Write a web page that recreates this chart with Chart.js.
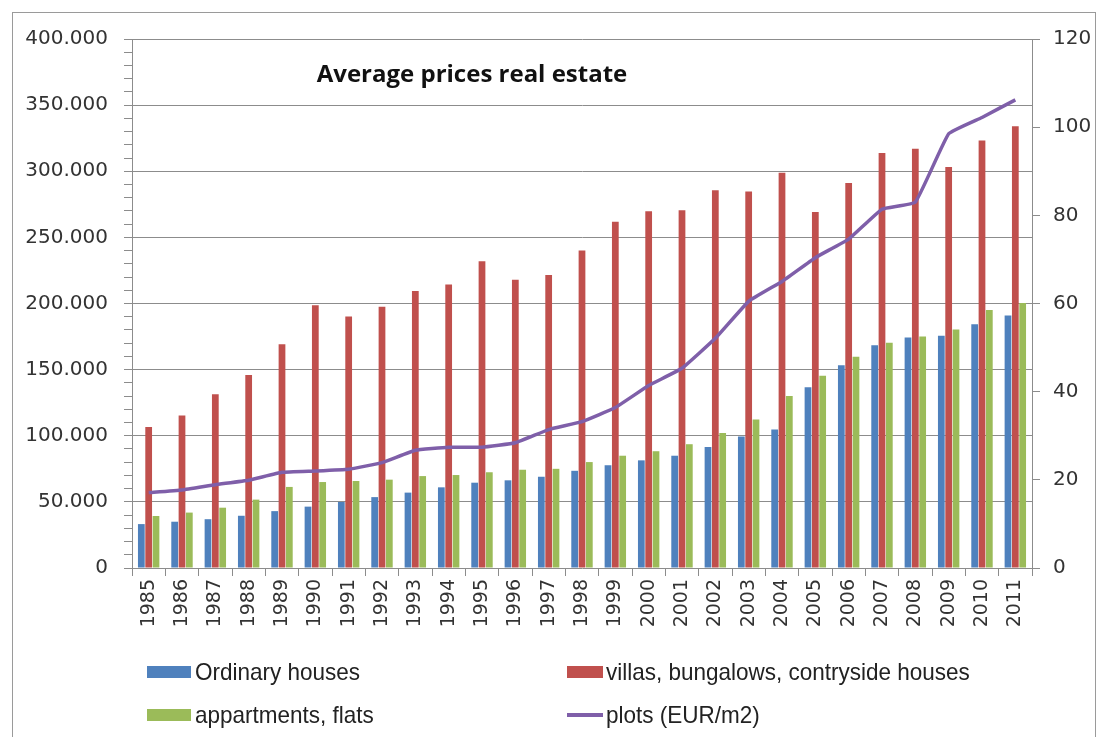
<!DOCTYPE html>
<html>
<head>
<meta charset="utf-8">
<title>Average prices real estate</title>
<script src="https://cdn.jsdelivr.net/npm/chart.js@4.4.1/dist/chart.umd.min.js"></script>
<style>
  body { margin: 0; background: #fff; }
  #wrap { width: 1097px; height: 737px; }
</style>
</head>
<body>
<div id="wrap"><canvas id="chart" width="1097" height="737"></canvas></div>
<script>
// Data
const years = ['1985', '1986', '1987', '1988', '1989', '1990', '1991', '1992', '1993', '1994',
  '1995', '1996', '1997', '1998', '1999', '2000', '2001', '2002', '2003', '2004',
  '2005', '2006', '2007', '2008', '2009', '2010', '2011'];

const ordinaryHouses = [33200, 35000, 36900, 39500, 43000, 46400, 49900, 53600, 57000, 61000,
  64500, 66300, 69000, 73500, 77700, 81400, 84900, 91500, 99500, 104800,
  136600, 153300, 168400, 174300, 175600, 184400, 191000];

const villas = [106600, 115400, 131300, 145900, 169200, 198700, 190200, 197600, 209500, 214300,
  232000, 218000, 221500, 240000, 261800, 269800, 270600, 285700, 284600, 298900,
  269200, 291200, 313800, 317000, 303200, 323300, 334000];

const apartments = [39300, 41900, 45600, 51700, 61300, 65000, 65800, 66800, 69500, 70300,
  72400, 74300, 75000, 80100, 84900, 88300, 93600, 102000, 112200, 130000,
  145400, 159700, 170300, 175000, 180400, 195000, 200300];

const plots = [17.1, 17.7, 18.9, 19.9, 21.7, 22.0, 22.4, 23.9, 26.7, 27.4,
  27.4, 28.4, 31.4, 33.2, 36.4, 41.4, 45.3, 52.1, 60.5, 65.0,
  70.4, 74.6, 81.4, 83.0, 98.5, 102.2, 106.2];

const seriesNames = ['Ordinary houses', 'villas, bungalows, contryside houses', 'appartments, flats', 'plots (EUR/m2)'];
const colors = ['#4F81BD', '#C0504D', '#9BBB59', '#7F5FA9'];
const chartTitle = 'Average prices real estate';

const axisFont = { family: 'DejaVu Sans', size: 20 };
const textColor = '#333333';
const gridColor = '#8c8c8c';

function euro(v) {
  return v === 0 ? '0' : v.toLocaleString('de-DE');
}

// white background, outer frame, title and legend
const decor = {
  id: 'decor',
  beforeDraw(chart) {
    const c = chart.ctx;
    c.save();
    c.fillStyle = '#fff';
    c.fillRect(0, 0, chart.width, chart.height);
    c.strokeStyle = '#9a9a9a';
    c.lineWidth = 1;
    c.strokeRect(12.5, 12.5, 1083, 740);
    c.restore();
  },
  afterDraw(chart) {
    const c = chart.ctx;
    c.save();
    c.fillStyle = '#111';
    c.font = 'bold 24px "Open Sans"';
    c.textAlign = 'center';
    c.textBaseline = 'middle';
    c.fillText(chartTitle, 472, 75);

    // legend, 2 x 2 ; the original font is a narrow one, so squeeze it
    const items = [
      { x: 147, y: 672, i: 0 },
      { x: 567, y: 672, i: 1 },
      { x: 147, y: 715, i: 2 },
      { x: 567, y: 715, i: 3 }
    ];
    c.font = '24px "Liberation Sans"';
    const squeeze = 165 / c.measureText(seriesNames[0]).width;
    c.textAlign = 'left';
    c.textBaseline = 'middle';
    items.forEach(it => {
      c.fillStyle = colors[it.i];
      if (it.i === 3) {
        c.fillRect(it.x, it.y - 2, 36, 4);
      } else {
        c.fillRect(it.x, it.y - 6, it.i === 1 ? 36 : 44, 12);
      }
      const tx = it.x + (it.i === 0 || it.i === 2 ? 48 : 39);
      c.save();
      c.translate(tx, it.y + 1);
      c.scale(squeeze, 1);
      c.fillStyle = '#222';
      c.fillText(seriesNames[it.i], 0, 0);
      c.restore();
    });
    c.restore();
  }
};

const ctx = document.getElementById('chart').getContext('2d');
const chart = new Chart(ctx, {
  data: {
    labels: years,
    datasets: [
      { type: 'bar', label: seriesNames[0], data: ordinaryHouses, backgroundColor: colors[0], yAxisID: 'y', order: 1 },
      { type: 'bar', label: seriesNames[1], data: villas, backgroundColor: colors[1], yAxisID: 'y', order: 1 },
      { type: 'bar', label: seriesNames[2], data: apartments, backgroundColor: colors[2], yAxisID: 'y', order: 1 },
      {
        type: 'line', label: seriesNames[3], data: plots, borderColor: colors[3], borderWidth: 3.5,
        pointRadius: 0, tension: 0.1, yAxisID: 'y2', order: 0
      }
    ]
  },
  options: {
    responsive: false,
    animation: false,
    layout: { padding: { top: 39, left: 0, right: 0, bottom: 0 } },
    datasets: {
      bar: { categoryPercentage: 0.66, barPercentage: 0.92 }
    },
    plugins: {
      legend: { display: false },
      tooltip: { enabled: false }
    },
    scales: {
      x: {
        offset: true,
        grid: { offset: true, drawOnChartArea: false, color: gridColor, tickLength: 8 },
        border: { color: gridColor },
        ticks: { color: textColor, font: { family: 'DejaVu Sans', size: 19 }, minRotation: 90, maxRotation: 90, padding: 3, autoSkip: false },
        afterFit(s) { s.height = 169; }
      },
      y: {
        position: 'left',
        min: 0, max: 400000,
        grid: {
          color: c => (c.tick && c.tick.value % 50000 === 0 && c.tick.value !== 0) ? gridColor : 'transparent',
          tickColor: gridColor,
          tickLength: 8
        },
        border: { color: gridColor },
        ticks: {
          stepSize: 10000, autoSkip: false, color: textColor, font: axisFont, padding: 16,
          callback: v => (v % 50000 === 0 ? euro(v) : '')
        },
        afterFit(s) { s.width = 132; }
      },
      y2: {
        position: 'right',
        min: 0, max: 120,
        grid: { drawOnChartArea: false, color: gridColor, tickLength: 8 },
        border: { color: gridColor },
        ticks: { stepSize: 20, color: textColor, font: axisFont, padding: 13 },
        afterFit(s) { s.width = 65; }
      }
    }
  },
  plugins: [decor]
});
</script>
</body>
</html>
